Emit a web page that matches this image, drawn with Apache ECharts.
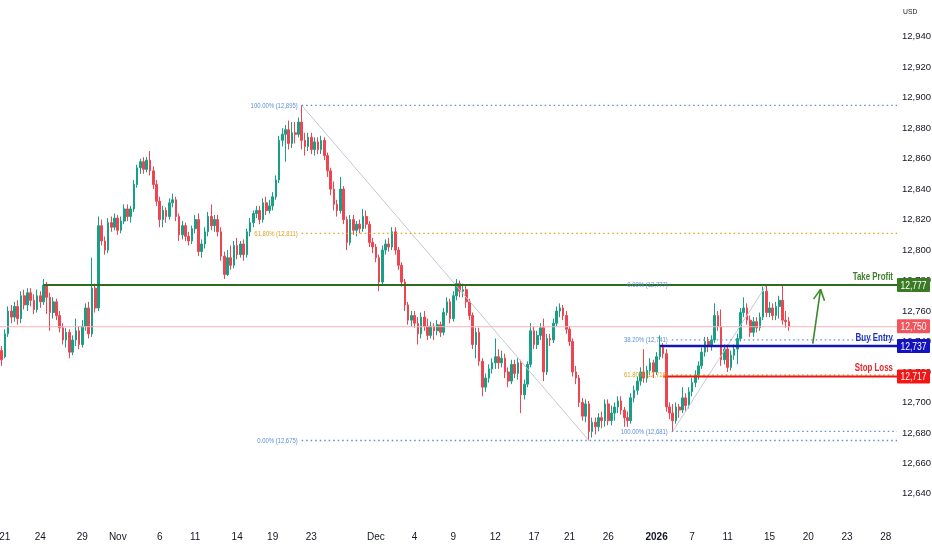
<!DOCTYPE html>
<html><head><meta charset="utf-8">
<script src="https://cdn.jsdelivr.net/npm/echarts@6/dist/echarts.min.js"></script>
<style>html,body{margin:0;padding:0;background:#fff}#c{width:932px;height:550px}</style>
</head><body><div id="c"></div>
<script>
const FONT = '"Liberation Sans", Arial, sans-serif';

// ---- data ----
const slotCount = 278; // candle slots on the time axis (incl. empty future space)
// [open, close, low, high]
const candles = [
[12734,12728,12724,12737],[12730,12745,12729,12748],[12745,12760,12743,12763],[12760,12756,12752,12764],[12756,12763,12753,12766],
[12763,12755,12751,12767],[12755,12770,12752,12773],[12770,12764,12761,12774],[12764,12772,12760,12775],[12772,12767,12763,12775],
[12767,12761,12758,12771],[12761,12770,12759,12774],[12770,12766,12762,12773],[12766,12777,12764,12781],[12777,12769,12758,12779],
[12769,12759,12747,12772],[12759,12766,12755,12769],[12766,12757,12754,12768],[12757,12749,12746,12760],[12749,12741,12738,12752],
[12741,12746,12736,12749],[12746,12733,12729,12748],[12733,12741,12731,12744],[12741,12747,12737,12755],[12747,12738,12735,12750],
[12738,12750,12736,12754],[12750,12762,12747,12765],[12762,12745,12742,12766],[12745,12775,12743,12795],[12775,12762,12759,12778],
[12762,12816,12760,12822],[12816,12806,12803,12820],[12806,12800,12797,12809],[12800,12818,12798,12821],[12818,12815,12812,12822],
[12815,12821,12813,12824],[12821,12813,12810,12823],[12813,12819,12811,12822],[12819,12827,12817,12830],[12827,12822,12819,12830],
[12822,12827,12818,12829],[12827,12843,12825,12846],[12843,12854,12841,12856],[12854,12858,12850,12860],[12858,12853,12850,12861],
[12853,12859,12851,12861],[12859,12852,12849,12865],[12852,12843,12840,12855],[12843,12832,12829,12846],[12832,12820,12815,12835],
[12820,12826,12815,12829],[12826,12822,12818,12828],[12822,12831,12820,12834],[12831,12833,12828,12837],[12833,12822,12819,12835],
[12822,12810,12806,12824],[12810,12816,12807,12819],[12816,12809,12806,12818],[12809,12806,12803,12812],[12806,12814,12804,12816],
[12814,12820,12811,12823],[12820,12799,12796,12824],[12799,12804,12795,12807],[12804,12812,12801,12815],[12812,12822,12809,12825],
[12822,12816,12813,12830],[12816,12820,12812,12823],[12820,12812,12809,12823],[12812,12796,12793,12815],[12796,12784,12781,12799],
[12784,12795,12783,12800],[12795,12790,12787,12803],[12790,12803,12788,12806],[12803,12797,12794,12808],[12797,12804,12795,12806],
[12804,12797,12793,12807],[12797,12812,12795,12814],[12812,12818,12809,12821],[12818,12824,12815,12826],[12824,12826,12821,12829],
[12826,12820,12817,12829],[12820,12831,12818,12834],[12831,12826,12823,12835],[12826,12829,12824,12833],[12829,12835,12826,12838],
[12835,12846,12833,12849],[12846,12872,12844,12875],[12872,12876,12868,12880],[12876,12879,12858,12882],[12879,12870,12866,12885],
[12870,12877,12867,12884],[12877,12876,12870,12884],[12876,12884,12874,12887],[12884,12872,12866,12895],[12872,12868,12862,12877],
[12868,12874,12865,12877],[12874,12866,12863,12877],[12866,12871,12862,12874],[12871,12866,12863,12874],[12866,12872,12863,12875],
[12872,12862,12859,12874],[12862,12852,12848,12864],[12852,12840,12836,12854],[12840,12830,12826,12845],[12830,12826,12822,12833],
[12826,12840,12824,12848],[12840,12820,12817,12842],[12820,12805,12800,12822],[12805,12820,12803,12823],[12820,12813,12810,12823],
[12813,12817,12809,12819],[12817,12814,12811,12820],[12814,12822,12812,12827],[12822,12817,12814,12826],[12817,12805,12802,12819],
[12805,12802,12798,12808],[12802,12795,12792,12804],[12795,12779,12773,12797],[12779,12800,12777,12803],[12800,12804,12797,12807],
[12804,12802,12799,12808],[12802,12812,12800,12815],[12812,12800,12797,12815],[12800,12790,12787,12802],[12790,12779,12776,12792],
[12779,12764,12760,12781],[12764,12754,12751,12766],[12754,12757,12750,12760],[12757,12752,12749,12760],[12752,12745,12738,12756],
[12745,12756,12742,12759],[12756,12750,12747,12760],[12750,12744,12741,12755],[12744,12750,12742,12753],[12750,12747,12741,12752],
[12747,12751,12744,12754],[12751,12746,12743,12753],[12746,12759,12744,12762],[12759,12766,12757,12769],[12766,12755,12752,12768],
[12755,12770,12753,12773],[12770,12778,12767,12781],[12778,12773,12769,12780],[12773,12774,12769,12778],[12774,12766,12762,12777],
[12766,12757,12754,12768],[12757,12738,12735,12759],[12738,12746,12729,12749],[12746,12727,12724,12749],[12727,12710,12704,12729],
[12710,12716,12707,12719],[12716,12722,12713,12725],[12722,12726,12719,12729],[12726,12730,12722,12742],[12730,12726,12722,12735],
[12726,12729,12723,12734],[12729,12720,12716,12732],[12720,12714,12710,12723],[12714,12725,12712,12728],[12725,12719,12716,12728],
[12719,12726,12715,12729],[12726,12705,12693,12728],[12705,12712,12702,12715],[12712,12725,12710,12727],[12725,12747,12723,12752],
[12747,12738,12735,12750],[12738,12744,12735,12747],[12744,12749,12741,12752],[12749,12720,12714,12755],[12720,12742,12718,12745],
[12742,12741,12737,12745],[12741,12752,12739,12755],[12752,12760,12750,12763],[12760,12762,12756,12765],[12762,12757,12754,12764],
[12757,12748,12745,12760],[12748,12740,12737,12750],[12740,12720,12717,12742],[12720,12716,12712,12724],[12716,12700,12697,12718],
[12700,12691,12688,12703],[12691,12699,12687,12702],[12699,12681,12675,12701],[12681,12687,12677,12690],[12687,12684,12679,12690],
[12684,12690,12681,12693],[12690,12688,12683,12694],[12688,12699,12684,12702],[12699,12688,12685,12702],[12688,12693,12685,12698],
[12693,12697,12688,12700],[12697,12701,12693,12704],[12701,12695,12692,12704],[12695,12690,12684,12697],[12690,12688,12684,12694],
[12688,12703,12686,12706],[12703,12708,12700,12711],[12708,12714,12705,12717],[12714,12720,12711,12723],[12720,12716,12713,12735],
[12716,12721,12713,12724],[12721,12726,12718,12729],[12726,12720,12716,12728],[12720,12730,12718,12733],[12730,12736,12728,12744],
[12736,12732,12729,12739],[12732,12697,12694,12735],[12697,12693,12689,12700],[12693,12688,12681,12699],[12688,12697,12686,12700],
[12697,12695,12690,12699],[12695,12703,12693,12710],[12703,12698,12694,12706],[12698,12707,12696,12710],[12707,12713,12704,12716],
[12713,12718,12710,12721],[12718,12724,12715,12727],[12724,12733,12722,12736],[12733,12740,12730,12743],[12740,12737,12733,12743],
[12737,12741,12734,12744],[12741,12757,12739,12765],[12757,12750,12747,12760],[12750,12728,12724,12761],[12728,12735,12725,12738],
[12735,12723,12720,12738],[12723,12731,12721,12734],[12731,12735,12728,12738],[12735,12742,12725,12745],[12742,12759,12740,12762],
[12759,12762,12756,12769],[12762,12754,12751,12765],[12754,12746,12743,12757],[12746,12753,12743,12756],[12753,12749,12746,12756],
[12749,12756,12747,12759],[12756,12773,12754,12776],[12773,12759,12756,12777],[12759,12762,12756,12766],[12762,12757,12754,12765],
[12757,12763,12754,12766],[12763,12767,12755,12770],[12767,12754,12751,12777],[12754,12753,12749,12760],[12753,12750,12747,12756]
];
const tickSlots  = [1,12,25,36,49,60,73,84,96,116,128,140,153,165,176,188,203,214,225,238,250,262,274];
const tickLabels = ['21','24','29','Nov','6','11','14','19','23','Dec','4','9','12','17','21','26','2026','7','11','15','20','23','28'];
const yMin = 12620, yMax = 12960, yStep = 20;
const currentPrice = 12750;
// trade levels
const levelNames  = ['Take Profit','Buy Entry','Stop Loss'];
const levelValues = [12777, 12737, 12717];
const levelStart  = [13, 204, 205];      // candle index where each ray begins
// Fibonacci retracement #1 (high -> low)
const fib1Anchors = [[93, 12895], [182, 12675]];
const fib1Pcts    = ['100.00%', '61.80%', '0.00%'];
const fib1Values  = [12895, 12811, 12675];
// Fibonacci retracement #2 (low -> high)
const fib2Anchors = [[208, 12681], [237, 12777]];
const fib2Pcts    = ['0.00%', '38.20%', '61.80%', '100.00%'];
const fib2Values  = [12777, 12741, 12718, 12681];
// projected move arrow [candle index, price]
const arrowPath = [[251.4, 12738.6], [253.8, 12774.2]];

// ---- chart ----
const categories = Array.from({length: slotCount}, (_, i) => i);
const fmt = v => Math.round(v).toLocaleString('en-US');
const chart = echarts.init(document.getElementById('c'), null, {renderer: 'canvas'});
const UP = '#16a085', DOWN = '#ef4452';

chart.setOption({
  animation: false,
  backgroundColor: '#ffffff',
  grid: {left: 0, right: 35, top: 6.3, bottom: 25.7, containLabel: false, outerBoundsMode: 'none'},
  xAxis: {
    type: 'category', data: categories, boundaryGap: true,
    axisLine: {show: false}, axisTick: {show: false}, splitLine: {show: false},
    axisLabel: {
      margin: 8, color: '#131722', fontSize: 10, fontFamily: FONT, hideOverlap: false,
      interval: (idx) => tickSlots.indexOf(idx) >= 0,
      formatter: (v, idx) => {
        const k = tickSlots.indexOf(Number(v));
        if (k < 0) return '';
        const t = tickLabels[k];
        return /^\d{4}$/.test(t) ? '{b|' + t + '}' : t;
      },
      rich: {b: {fontWeight: 'bold', fontSize: 10, fontFamily: FONT, color: '#131722'}}
    }
  },
  yAxis: {
    type: 'value', position: 'right', min: yMin, max: yMax, interval: yStep, scale: true,
    axisLine: {show: false}, axisTick: {show: false}, splitLine: {show: false},
    axisLabel: {
      margin: 5, color: '#131722', fontSize: 9.5, fontFamily: FONT,
      formatter: v => (v <= yMin || v >= yMax) ? '' : fmt(v)
    }
  },
  series: [{
    type: 'candlestick',
    data: candles,
    barWidth: '66%',
    itemStyle: {color: UP, color0: DOWN, borderColor: UP, borderColor0: DOWN, borderWidth: 1}
  }]
});

function buildOverlay() {
  const x0 = chart.convertToPixel({xAxisIndex: 0}, 0);
  const x1 = chart.convertToPixel({xAxisIndex: 0}, 1);
  const slotW = x1 - x0;
  const X = i => x0 + i * slotW;
  const Y = v => chart.convertToPixel({yAxisIndex: 0}, v);
  const right = X(slotCount - 1) + slotW / 2;
  const left = X(0) - slotW / 2;
  const g = [];
  const line = (xa, ya, xb, yb, stroke, w, dash, z) => g.push({
    type: 'line', silent: true, z: z || 10,
    shape: {x1: xa, y1: ya, x2: xb, y2: yb},
    style: {stroke, lineWidth: w, lineDash: dash || null}
  });
  const text = (x, y, t, fill, size, align, va, weight, z, sx) => g.push({
    type: 'text', silent: true, z: z || 20, x, y, scaleX: sx || 1,
    style: {text: t, fill, fontSize: size, fontFamily: FONT, fontWeight: weight || 'normal', align, verticalAlign: va}
  });
  const tag = (v, fill) => {
    const y = Y(v);
    g.push({type: 'rect', silent: true, z: 40, shape: {x: right, y: y - 7, width: 33, height: 14, r: 1}, style: {fill}});
    text(right + 16.5, y + 0.5, fmt(v), '#ffffff', 11, 'center', 'middle', 'normal', 41, 0.78);
  };

  // current price line
  line(left, Y(currentPrice) + 0.5, right, Y(currentPrice) + 0.5, '#f5b3b8', 1, null, 5);

  // fib 1
  const fibBlue = '#5b8fdc', fibOrange = '#e9a020', fibTextOrange = '#d9a21c';
  line(X(fib1Anchors[0][0]), Y(fib1Anchors[0][1]), X(fib1Anchors[1][0]), Y(fib1Anchors[1][1]), '#c3c9d4', 1, null, 6);
  fib1Values.forEach((v, k) => {
    const isO = fib1Pcts[k] === '61.80%';
    line(X(fib1Anchors[0][0]), Y(v), right, Y(v), isO ? fibOrange : fibBlue, 1.3, [1.5, 3], 7);
    text(X(fib1Anchors[0][0]) - 4, Y(v), fib1Pcts[k] + ' (' + fmt(v) + ')', isO ? fibTextOrange : fibBlue, 8, 'right', 'middle', 'normal', 20, 0.74);
  });
  // fib 2
  line(X(fib2Anchors[0][0]), Y(fib2Anchors[0][1]), X(fib2Anchors[1][0]), Y(fib2Anchors[1][1]), '#c3c9d4', 1, null, 6);
  fib2Values.forEach((v, k) => {
    const isO = fib2Pcts[k] === '61.80%';
    line(X(fib2Anchors[0][0]) - 1, Y(v), right, Y(v), isO ? fibOrange : fibBlue, 1.3, [1.5, 3], 7);
    text(X(fib2Anchors[0][0]) - 5, Y(v), fib2Pcts[k] + ' (' + fmt(v) + ')', isO ? fibTextOrange : fibBlue, 8, 'right', 'middle', 'normal', 20, 0.74);
  });

  // trade levels
  const lvlLine = ['#2f6b1e', '#1414b0', '#f01414'];
  const lvlText = ['#3f7d2a', '#1c2fc2', '#e3262b'];
  const lvlTag  = ['#3a7a24', '#1212c2', '#f21616'];
  levelValues.forEach((v, k) => {
    line(X(levelStart[k]), Y(v), right, Y(v), lvlLine[k], k === 1 ? 2.5 : 2, null, 12);
    text(right - 4, Y(v) - 3, levelNames[k], lvlText[k], 11, 'right', 'bottom', 'bold', 22, 0.72);
  });

  // arrow
  const ax = X(arrowPath[0][0]), ay = Y(arrowPath[0][1]);
  const bx = X(arrowPath[1][0]), by = Y(arrowPath[1][1]);
  const ang = Math.atan2(ay - by, ax - bx);
  const L = 12, spread = 0.48;
  const arrowColor = '#3a8a2c';
  line(ax, ay, bx, by, arrowColor, 1.6, null, 15);
  line(bx, by, bx + L * Math.cos(ang + spread), by + L * Math.sin(ang + spread), arrowColor, 1.6, null, 15);
  line(bx, by, bx + L * Math.cos(ang - spread), by + L * Math.sin(ang - spread), arrowColor, 1.6, null, 15);

  // price tags on the axis
  tag(levelValues[0], lvlTag[0]);
  tag(currentPrice, '#f2545c');
  tag(levelValues[1], lvlTag[1]);
  tag(levelValues[2], lvlTag[2]);

  // currency label
  text(right + 6, 12, 'USD', '#131722', 8, 'left', 'middle', 'normal', 20, 0.85);

  chart.setOption({graphic: {elements: g}});
}
buildOverlay();
</script>
</body></html>
